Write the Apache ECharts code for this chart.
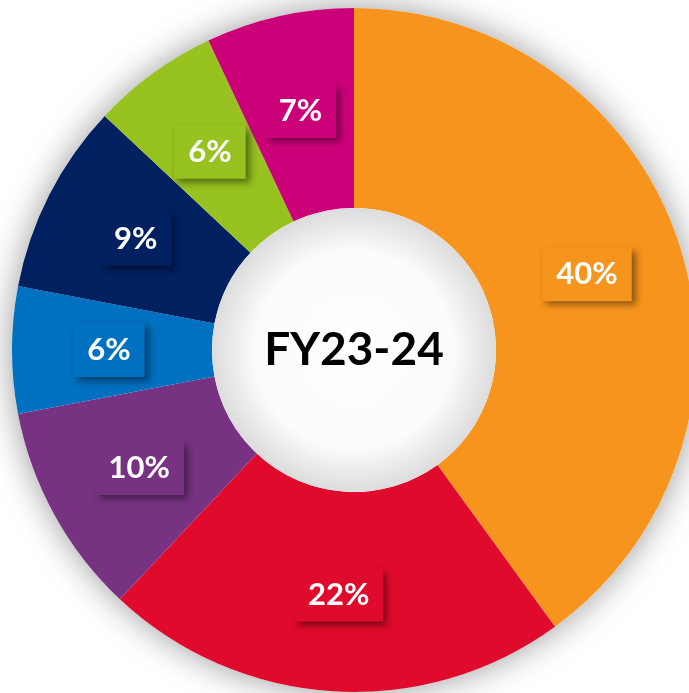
<!DOCTYPE html>
<html>
<head>
<meta charset="utf-8">
<script src="https://cdn.jsdelivr.net/npm/echarts@6/dist/echarts.min.js"></script>
<style>
  html, body { margin: 0; padding: 0; background: #fff; }
  #chart { width: 689px; height: 693px; }
</style>
</head>
<body>
<div id="chart"></div>
<script>
// shares, clockwise from 12 o'clock
const segNames = ['A', 'B', 'C', 'D', 'E', 'F', 'G']
const segValues = [40, 22, 10, 6, 9, 6, 7]
const segColors = ['#F7941D', '#E00A2C', '#773282', '#0070C0', '#012060', '#97C21F', '#CB0078']
const centerTitle = 'FY23-24'

const CX = 354
const CY = 350

const chart = echarts.init(document.getElementById('chart'))

const slices = segValues.map((v, i) => ({
  name: segNames[i],
  value: v,
  itemStyle: { color: segColors[i] },
  label: { backgroundColor: segColors[i] }
}))

chart.setOption({
  animation: false,
  series: [
    {
      // soft glow under the ring
      type: 'pie',
      center: [CX, CY],
      radius: [0, 342],
      silent: true,
      z: 1,
      label: { show: false },
      itemStyle: {
        color: '#ffffff',
        shadowBlur: 34,
        shadowColor: 'rgba(0,0,0,0.4)'
      },
      data: [{ value: 1 }]
    },
    {
      type: 'pie',
      center: [CX, CY],
      radius: [142, 342],
      startAngle: 90,
      clockwise: true,
      z: 2,
      itemStyle: { borderWidth: 0 },
      label: {
        show: true,
        position: 'inside',
        formatter: '{c}%',
        color: '#fff',
        fontFamily: 'Lato',
        fontWeight: 'bold',
        fontSize: 31,
        padding: [13, 14, 10, 14],
        shadowBlur: 7,
        shadowOffsetX: 4,
        shadowOffsetY: 4,
        shadowColor: 'rgba(0,0,0,0.45)'
      },
      labelLine: { show: false },
      data: slices
    },
    {
      // centre disc
      type: 'pie',
      center: [CX, CY],
      radius: [0, 142],
      silent: true,
      z: 3,
      itemStyle: {
        color: {
          type: 'radial', x: 0.5, y: 0.5, r: 0.5,
          colorStops: [
            { offset: 0, color: '#ffffff' },
            { offset: 0.7, color: '#fbfbfb' },
            { offset: 1, color: '#dcdcdc' }
          ]
        }
      },
      label: {
        show: true,
        position: 'center',
        formatter: centerTitle,
        color: '#000',
        fontFamily: 'Lato',
        fontWeight: 'bold',
        fontSize: 46,
        padding: [8, 0, 0, 0]
      },
      labelLine: { show: false },
      data: [{ value: 1 }]
    }
  ]
})
</script>
</body>
</html>
